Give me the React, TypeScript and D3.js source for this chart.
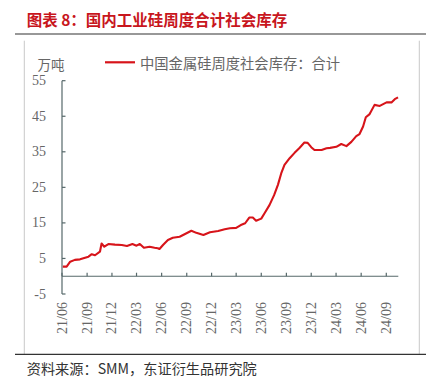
import React from "react";
import * as d3 from "d3";

const dates: string[] = [
  "2021-06-04","2021-06-18","2021-07-01","2021-07-18","2021-08-06","2021-09-06","2021-09-18","2021-09-30",
  "2021-10-18","2021-10-24","2021-11-03","2021-11-18","2021-12-12","2022-01-06","2022-01-25","2022-02-14",
  "2022-03-01","2022-03-13","2022-03-28","2022-04-18","2022-05-06","2022-05-18","2022-05-24","2022-06-06",
  "2022-06-24","2022-07-12","2022-08-06","2022-08-24","2022-09-18","2022-10-06","2022-11-01","2022-11-25",
  "2022-12-25","2023-01-18","2023-02-06","2023-03-01","2023-03-18","2023-04-03","2023-04-18","2023-05-01",
  "2023-05-13","2023-06-01","2023-06-13","2023-07-01","2023-07-18","2023-08-01","2023-08-13","2023-08-25",
  "2023-09-13","2023-10-01","2023-10-18","2023-11-06","2023-11-18","2023-12-01","2023-12-13","2024-01-08",
  "2024-01-26","2024-02-08","2024-03-02","2024-03-20","2024-04-08","2024-04-26","2024-05-14","2024-05-26",
  "2024-06-08","2024-06-18","2024-07-02","2024-07-20","2024-08-08","2024-09-02","2024-09-20","2024-10-02",
  "2024-10-14",
];
const stock: number[] = [
  2.7, 2.7, 4.1, 4.6, 4.75, 5.5, 6.2, 5.9,
  6.9, 9.2, 8.3, 9.05, 8.9, 8.8, 8.5, 9.05,
  8.6, 9.05, 8.0, 8.3, 8.0, 7.85, 7.65, 8.8,
  10.2, 10.8, 11.1, 11.8, 12.8, 12.2, 11.6, 12.35,
  12.7, 13.2, 13.5, 13.6, 14.4, 14.9, 16.5, 16.5,
  15.6, 16.2, 17.7, 20.0, 22.8, 25.7, 28.9, 31.3,
  33.2, 34.7, 36.0, 37.6, 37.5, 36.3, 35.5, 35.5,
  36.0, 36.1, 36.4, 37.2, 36.6, 37.8, 39.4, 40.0,
  42.1, 44.7, 45.6, 48.2, 47.9, 48.9, 48.9, 49.8,
  50.3,
];
const xTickLabels: string[] = [
  "21/06","21/09","21/12","22/03","22/06","22/09","22/12",
  "23/03","23/06","23/09","23/12","24/03","24/06","24/09",
];
const yTicks: number[] = [-5, 5, 15, 25, 35, 45, 55];

const title = "图表 8：国内工业硅周度合计社会库存";
const seriesName = "中国金属硅周度社会库存：合计";
const unit = "万吨";
const source = "资料来源：SMM，东证衍生品研究院";

const W = 426, H = 388;
const plot = { left: 62, right: 398.3, top: 80.7, bottom: 294 };

const parse = d3.timeParse("%Y-%m-%d");
const tickDate = (s: string) => new Date(2000 + +s.slice(0, 2), +s.slice(3) - 1, 1);

export default function App() {
  const x = d3.scaleTime()
    .domain([new Date(2021, 5, 1), new Date(2024, 9, 15)])
    .range([plot.left, plot.right]);
  const y = d3.scaleLinear().domain([-5, 55]).range([plot.bottom, plot.top]);
  const pts = dates.map((d, i) => [x(parse(d) as Date), y(stock[i])] as [number, number]);
  const line = d3.line<[number, number]>().x(p => p[0]).y(p => p[1]);
  const axisColor = "#56686a";
  const labelColor = "#666";
  const cjk = "'Noto Sans CJK SC', sans-serif";
  const serif = "'Liberation Serif', 'Times New Roman', serif";
  const y0 = y(0);

  return (
    <svg width={W} height={H} style={{ position: "absolute", left: 0, top: 0, display: "block", background: "#fff" }}>
      <text x={26.7} y={26} fontFamily={cjk} fontWeight={700} fontSize={15.5} fill="#c8161d">{title}</text>
      <line x1={15} x2={426} y1={34} y2={34} stroke="#333" strokeWidth={1.2} />
      <line x1={24.3} x2={24.3} y1={40.7} y2={354} stroke="#c8c8c8" strokeWidth={1} />
      <line x1={419.3} x2={419.3} y1={40.7} y2={354} stroke="#c8c8c8" strokeWidth={1} />
      <line x1={15} x2={426} y1={354.3} y2={354.3} stroke="#333" strokeWidth={1.2} />
      <text x={26.7} y={368} dominantBaseline="central" fontFamily={cjk} fontSize={14.2} fill="#333">{source}</text>

      <text x={51} y={64} textAnchor="middle" dominantBaseline="central" fontFamily={cjk} fontSize={13.5} fill={labelColor}>{unit}</text>
      <line x1={105} x2={135} y1={62.3} y2={62.3} stroke="#d7141a" strokeWidth={2.2} />
      <text x={140} y={62.3} dominantBaseline="central" fontFamily={cjk} fontSize={14.3} fill={labelColor}>{seriesName}</text>

      {/* y axis */}
      <line x1={plot.left} x2={plot.left} y1={plot.top} y2={plot.bottom} stroke={axisColor} strokeWidth={1.2} />
      {yTicks.map(t => (
        <g key={t}>
          <line x1={plot.left} x2={plot.left + 3.5} y1={y(t)} y2={y(t)} stroke={axisColor} strokeWidth={1.2} />
          <text x={46} y={y(t)} textAnchor="end" dominantBaseline="central" fontFamily={serif} fontSize={14} fill={labelColor}>{t}</text>
        </g>
      ))}

      {/* x axis */}
      <line x1={plot.left} x2={plot.right} y1={y0} y2={y0} stroke={axisColor} strokeWidth={1.2} />
      {xTickLabels.map(l => {
        const xx = x(tickDate(l));
        return (
          <g key={l}>
            <line x1={xx} x2={xx} y1={y0} y2={y0 - 3.5} stroke={axisColor} strokeWidth={1.2} />
            <text transform={`translate(${xx},302) rotate(-90)`} textAnchor="end" dominantBaseline="central" fontFamily={serif} fontSize={14} fill={labelColor}>{l}</text>
          </g>
        );
      })}

      <path d={line(pts) || ""} fill="none" stroke="#d7141a" strokeWidth={2.1} strokeLinejoin="round" />
    </svg>
  );
}
